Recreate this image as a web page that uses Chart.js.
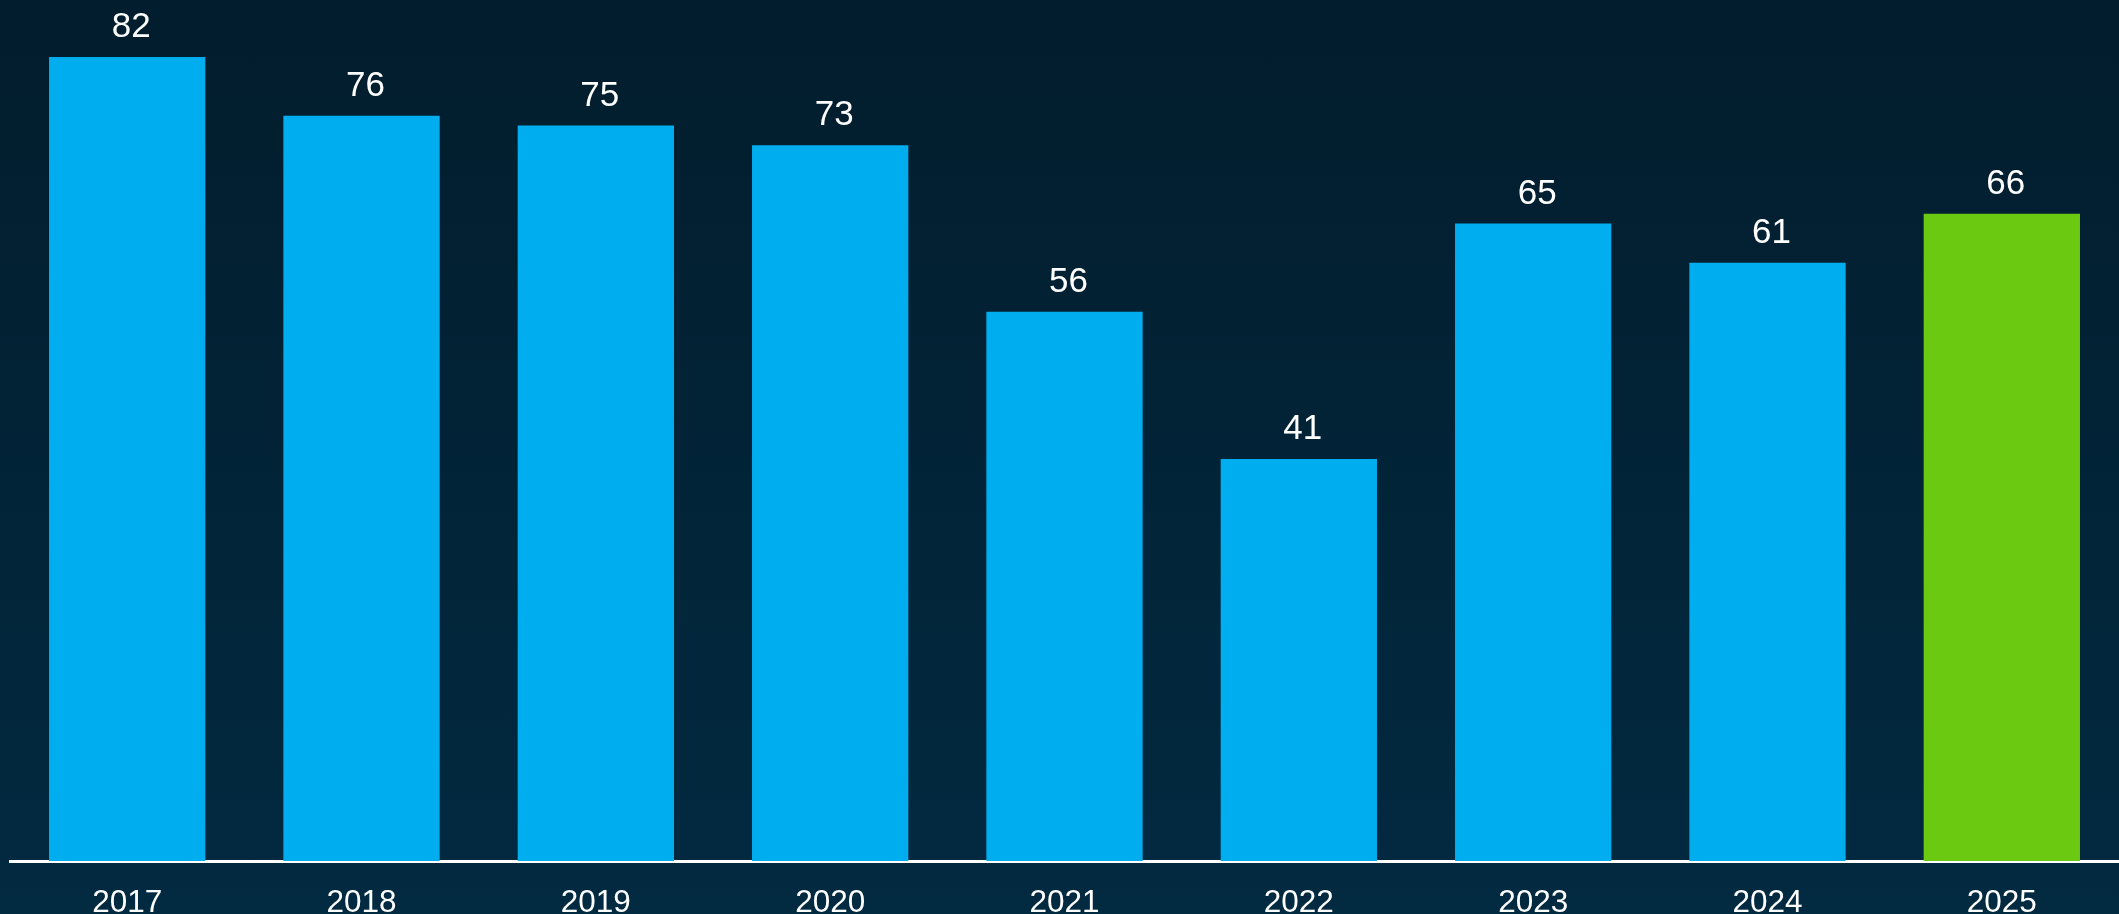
<!DOCTYPE html>
<html>
<head>
<meta charset="utf-8">
<script src="https://cdn.jsdelivr.net/npm/chart.js@4.4.1/dist/chart.umd.min.js"></script>
<style>
  html, body { margin: 0; padding: 0; overflow: hidden; }
  body {
    width: 2119px; height: 914px;
    background: linear-gradient(to bottom, #021d2d 0%, #022a41 100%);
  }
  #wrap { position: relative; width: 2119px; height: 914px; }
</style>
</head>
<body>
<div id="wrap"><canvas id="chart"></canvas></div>
<script>
const years = ['2017', '2018', '2019', '2020', '2021', '2022', '2023', '2024', '2025'];
const values = [82, 76, 75, 73, 56, 41, 65, 61, 66];
const barColors = ['#00aeef', '#00aeef', '#00aeef', '#00aeef', '#00aeef', '#00aeef', '#00aeef', '#00aeef', '#6cc912'];

// draw the number above each bar
const valueLabels = {
  id: 'valueLabels',
  afterDatasetsDraw(chart) {
    const ctx = chart.ctx;
    const meta = chart.getDatasetMeta(0);
    ctx.save();
    ctx.fillStyle = '#ffffff';
    ctx.font = '35px "Liberation Sans", Arial, sans-serif';
    ctx.textAlign = 'center';
    ctx.textBaseline = 'alphabetic';
    meta.data.forEach((bar, i) => {
      ctx.fillText(values[i], bar.x + 4, bar.y - 20);
    });
    ctx.restore();
  }
};

new Chart(document.getElementById('chart'), {
  type: 'bar',
  data: {
    labels: years,
    datasets: [{
      data: values,
      backgroundColor: barColors,
      borderWidth: 0,
      categoryPercentage: 1,
      barPercentage: 0.667
    }]
  },
  options: {
    responsive: true,
    maintainAspectRatio: false,
    animation: false,
    layout: { padding: { left: 10, right: 0, top: 0, bottom: 0 } },
    plugins: {
      legend: { display: false },
      tooltip: { enabled: false }
    },
    scales: {
      x: {
        grid: { display: false, drawTicks: false },
        border: { display: true, color: '#ffffff', width: 3 },
        ticks: {
          color: '#ffffff',
          padding: 23,
          font: { family: '"Liberation Sans", Arial, sans-serif', size: 31.5 }
        },
        afterFit(scale) { scale.height = 53; }
      },
      y: {
        display: false,
        min: 0,
        max: 87.8
      }
    }
  },
  plugins: [valueLabels]
});
</script>
</body>
</html>
